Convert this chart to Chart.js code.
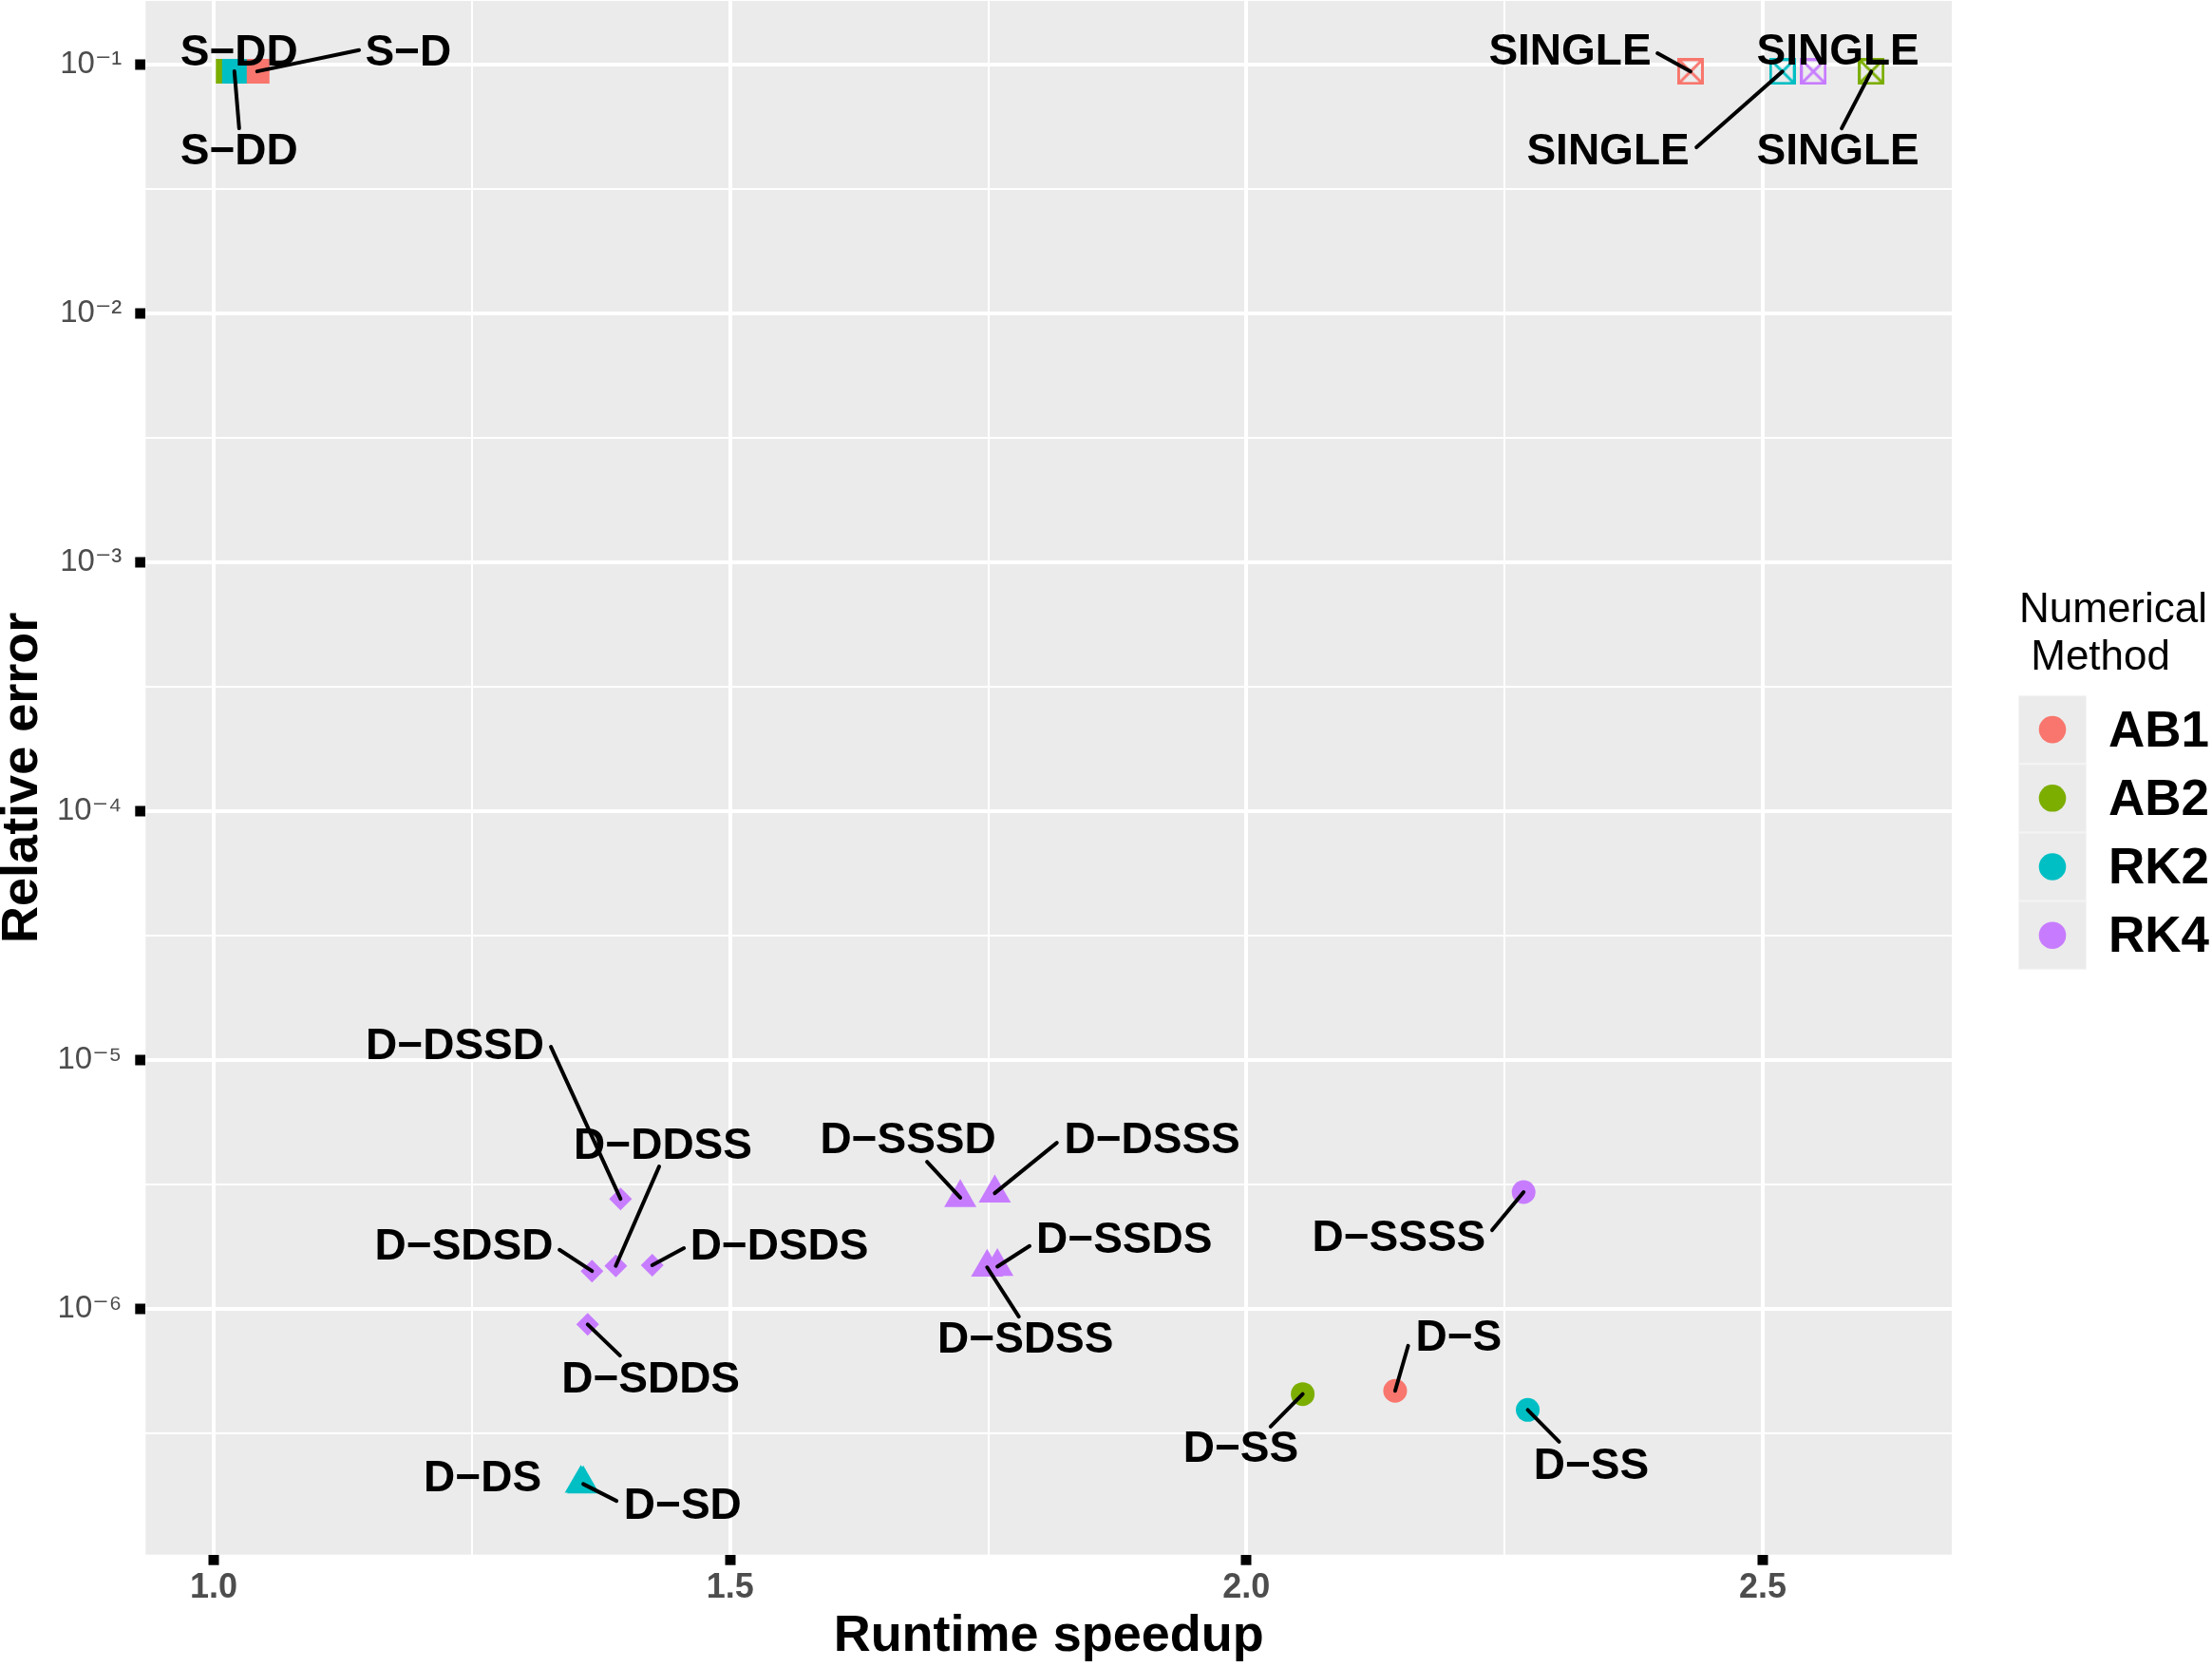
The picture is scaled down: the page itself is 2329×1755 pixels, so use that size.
<!DOCTYPE html>
<html>
<head>
<meta charset="utf-8">
<script src="https://cdn.jsdelivr.net/npm/chart.js@4.4.1/dist/chart.umd.min.js"></script>
<style>
  html, body { margin: 0; padding: 0; background: #ffffff; }
  #wrap { width: 2329px; height: 1755px; position: relative; }
</style>
</head>
<body>
<div id="wrap"><canvas id="myChart"></canvas></div>
<script>
// numerical methods (colour groups)
var methods = ["AB1", "AB2", "RK2", "RK4"];
var methodColors = ["#F8766D", "#7CAE00", "#00BFC4", "#C77CFF"];

// precision configurations per method: name, runtime speedup, relative error, precision class
var ab1Names   = ["S−D", "SINGLE", "D−S"];
var ab1Speedup = [1.042, 2.430, 2.144];
var ab1Error   = [0.0940, 0.0938, 4.69e-7];
var ab1Class   = ["sd", "single", "all"];

var ab2Names   = ["S−DD", "SINGLE", "D−SS"];
var ab2Speedup = [1.014, 2.605, 2.0545];
var ab2Error   = [0.0940, 0.0938, 4.55e-7];
var ab2Class   = ["sd", "single", "all"];

var rk2Names   = ["S−DD", "SINGLE", "D−DS", "D−SD", "D−SS"];
var rk2Speedup = [1.020, 2.519, 1.3555, 1.3578, 2.2724];
var rk2Error   = [0.0940, 0.0938, 1.99e-7, 1.98e-7, 3.93e-7];
var rk2Class   = ["sd", "single", "most", "most", "all"];

var rk4Names   = ["SINGLE", "D−DSSD", "D−SDSD", "D−DDSS", "D−DSDS", "D−SDDS",
                  "D−SSSD", "D−DSSS", "D−SDSS", "D−SSDS", "D−SSSS"];
var rk4Speedup = [2.549, 1.3939, 1.3663, 1.3893, 1.4246, 1.3621,
                  1.7229, 1.7563, 1.7489, 1.7588, 2.2684];
var rk4Error   = [0.0938, 2.77e-6, 1.42e-6, 1.49e-6, 1.50e-6, 8.67e-7,
                  2.80e-6, 2.92e-6, 1.47e-6, 1.48e-6, 2.95e-6];
var rk4Class   = ["single", "half", "half", "half", "half", "half",
                  "most", "most", "most", "most", "all"];

// axis ticks
var xTicks = [1.0, 1.25, 1.5, 1.75, 2.0, 2.25, 2.5];
var yTickExp = [-6.5, -6, -5.5, -5, -4.5, -4, -3.5, -3, -2.5, -2, -1.5, -1];

// repelled label placement (data units): method, point, label centre, segment end
var labelPlacement = [
  {m: 0, i: 0, x: 1.1883, y: 0.1131,   ex: 1.1407, ey: 0.1144},
  {m: 0, i: 1, x: 2.3133, y: 0.1141,   ex: 2.398,  ey: 0.1111},
  {m: 0, i: 2, x: 2.2056, y: 7.715e-7, ex: 2.1566, ey: 7.116e-7},
  {m: 1, i: 0, x: 1.0246, y: 0.1131,   ex: null,   ey: null},
  {m: 1, i: 1, x: 2.5727, y: 0.04533,  ex: 2.5764, ey: 0.05548},
  {m: 1, i: 2, x: 1.9946, y: 2.771e-7, ex: 2.0234, ey: 3.372e-7},
  {m: 2, i: 0, x: 1.0246, y: 0.04533,  ex: 1.0246, ey: 0.05548},
  {m: 2, i: 1, x: 2.3501, y: 0.04533,  ex: 2.4358, ey: 0.04656},
  {m: 2, i: 2, x: 1.2603, y: 2.098e-7, ex: null,   ey: null},
  {m: 2, i: 3, x: 1.4541, y: 1.632e-7, ex: 1.39,   ey: 1.694e-7},
  {m: 2, i: 4, x: 2.3339, y: 2.355e-7, ex: 2.3028, ey: 2.929e-7},
  {m: 3, i: 0, x: 2.5727, y: 0.1141,   ex: null,   ey: null},
  {m: 3, i: 1, x: 1.2336, y: 1.147e-5, ex: 1.3265, ey: 1.131e-5},
  {m: 3, i: 2, x: 1.2423, y: 1.806e-6, ex: 1.3348, ey: 1.729e-6},
  {m: 3, i: 3, x: 1.435,  y: 4.546e-6, ex: 1.4313, ey: 3.736e-6},
  {m: 3, i: 4, x: 1.5477, y: 1.792e-6, ex: 1.4553, ey: 1.755e-6},
  {m: 3, i: 5, x: 1.4231, y: 5.265e-7, ex: 1.3934, ey: 6.502e-7},
  {m: 3, i: 6, x: 1.6723, y: 4.82e-6,  ex: 1.6907, ey: 3.904e-6},
  {m: 3, i: 7, x: 1.9087, y: 4.82e-6,  ex: 1.8164, ey: 4.654e-6},
  {m: 3, i: 8, x: 1.7861, y: 7.614e-7, ex: 1.7796, ey: 9.322e-7},
  {m: 3, i: 9, x: 1.8817, y: 1.907e-6, ex: 1.79,   ey: 1.791e-6},
  {m: 3, i: 10, x: 2.1476, y: 1.949e-6, ex: 2.2379, ey: 2.074e-6}
];

var FONT = '"Liberation Sans", Arial, "DejaVu Sans", sans-serif';

// square with a cross (single precision marker)
function crossSquare(color) {
  var c = document.createElement("canvas");
  c.width = 28; c.height = 28;
  var g = c.getContext("2d");
  g.strokeStyle = color;
  g.lineWidth = 3;
  g.strokeRect(1.5, 1.5, 25, 25);
  g.beginPath();
  g.moveTo(2, 2); g.lineTo(26, 26);
  g.moveTo(26, 2); g.lineTo(2, 26);
  g.stroke();
  return c;
}

function styleFor(cls, color) {
  if (cls === "sd") return "rect";
  if (cls === "single") return crossSquare(color);
  if (cls === "most") return "triangle";
  if (cls === "half") return "rectRot";
  return "circle";
}
function radiusFor(cls) {
  if (cls === "sd") return 18.4;
  if (cls === "single") return 14;
  if (cls === "most") return 19.6;
  if (cls === "half") return 12;
  return 12.5;
}

function makeSet(k, names, speed, err, cls) {
  var pts = [];
  for (var i = 0; i < names.length; i++) pts.push({x: speed[i], y: err[i]});
  var col = methodColors[k];
  return {
    label: methods[k],
    data: pts,
    order: 3 - k,
    pointStyle: cls.map(function(c) { return styleFor(c, col); }),
    pointRadius: cls.map(radiusFor),
    backgroundColor: col,
    borderColor: col,
    borderWidth: 0,
    showLine: false
  };
}

var allNames = [ab1Names, ab2Names, rk2Names, rk4Names];

var datasets = [
  makeSet(0, ab1Names, ab1Speedup, ab1Error, ab1Class),
  makeSet(1, ab2Names, ab2Speedup, ab2Error, ab2Class),
  makeSet(2, rk2Names, rk2Speedup, rk2Error, rk2Class),
  makeSet(3, rk4Names, rk4Speedup, rk4Error, rk4Class)
];

function isMajorX(v) { return Math.abs(v * 2 - Math.round(v * 2)) < 1e-6; }
function isMajorY(v) { var e = Math.log10(v); return Math.abs(e - Math.round(e)) < 1e-6; }

var SUP = {"-": "⁻", "0": "⁰", "1": "¹", "2": "²", "3": "³", "4": "⁴",
           "5": "⁵", "6": "⁶", "7": "⁷", "8": "⁸", "9": "⁹"};
function supText(n) {
  return String(n).split("").map(function(ch) { return SUP[ch]; }).join("");
}

// panel background (ggplot grey)
var panelBg = {
  id: "panelBg",
  beforeDraw: function(chart) {
    var a = chart.chartArea, ctx = chart.ctx;
    ctx.save();
    ctx.fillStyle = "#EBEBEB";
    ctx.fillRect(a.left, a.top, a.right - a.left, a.bottom - a.top);
    ctx.restore();
  }
};

// repelled text labels with leader segments
var pointLabels = {
  id: "pointLabels",
  afterDatasetsDraw: function(chart) {
    var ctx = chart.ctx, xs = chart.scales.x, ys = chart.scales.y;
    ctx.save();
    ctx.strokeStyle = "#000";
    ctx.lineWidth = 4;
    ctx.lineCap = "round";
    labelPlacement.forEach(function(p) {
      if (p.ex === null) return;
      var pt = chart.data.datasets[p.m].data[p.i];
      ctx.beginPath();
      ctx.moveTo(xs.getPixelForValue(pt.x), ys.getPixelForValue(pt.y));
      ctx.lineTo(xs.getPixelForValue(p.ex), ys.getPixelForValue(p.ey));
      ctx.stroke();
    });
    ctx.fillStyle = "#000";
    ctx.font = "bold 46px " + FONT;
    ctx.textAlign = "center";
    ctx.textBaseline = "middle";
    labelPlacement.forEach(function(p) {
      ctx.fillText(allNames[p.m][p.i], xs.getPixelForValue(p.x), ys.getPixelForValue(p.y) + 2);
    });
    ctx.restore();
  }
};

// colour legend on the right
var sideLegend = {
  id: "sideLegend",
  afterDraw: function(chart) {
    var ctx = chart.ctx;
    ctx.save();
    ctx.fillStyle = "#000";
    ctx.textAlign = "left";
    ctx.textBaseline = "alphabetic";
    ctx.font = "44px " + FONT;
    ctx.fillText("Numerical", 2126, 655);
    ctx.fillText(" Method", 2126, 705);
    var top = 732, h = 72.2;
    for (var k = 0; k < methods.length; k++) {
      var y0 = top + k * h;
      ctx.fillStyle = "#EBEBEB";
      ctx.fillRect(2125, y0, 72, h);
      ctx.strokeStyle = "#F5F5F5";
      ctx.lineWidth = 1;
      ctx.strokeRect(2125.5, y0 + 0.5, 71, h - 1);
      ctx.fillStyle = methodColors[k];
      ctx.beginPath();
      ctx.arc(2161, y0 + h / 2, 14.3, 0, Math.PI * 2);
      ctx.fill();
      ctx.fillStyle = "#000";
      ctx.font = "bold 53px " + FONT;
      ctx.textBaseline = "middle";
      ctx.fillText(methods[k], 2220, y0 + h / 2 + 3);
      ctx.textBaseline = "alphabetic";
    }
    ctx.restore();
  }
};

var ctx = document.getElementById("myChart");
var myChart = new Chart(ctx, {
  type: "scatter",
  data: { datasets: datasets },
  plugins: [panelBg, pointLabels, sideLegend],
  options: {
    responsive: true,
    maintainAspectRatio: false,
    animation: false,
    events: [],
    devicePixelRatio: 1,
    layout: { autoPadding: false, padding: { left: 0, top: 1, right: 274, bottom: 0 } },
    plugins: { legend: { display: false }, tooltip: { enabled: false } },
    scales: {
      x: {
        type: "linear",
        min: 0.934,
        max: 2.683,
        bounds: "data",
        afterFit: function(s) { s.height = 118.3; s.paddingLeft = 0; s.paddingRight = 0; },
        afterBuildTicks: function(s) {
          s.ticks = xTicks.map(function(v) { return {value: v}; });
        },
        border: { display: false },
        grid: {
          color: "#FFFFFF",
          lineWidth: function(c) { return c.tick && isMajorX(c.tick.value) ? 4 : 2; },
          drawTicks: true,
          tickLength: 11,
          tickWidth: 11,
          tickColor: function(c) { return c.tick && isMajorX(c.tick.value) ? "#000" : "rgba(0,0,0,0)"; }
        },
        ticks: {
          autoSkip: false,
          maxRotation: 0,
          padding: 3,
          color: "#4D4D4D",
          font: { family: FONT, size: 36, weight: "bold" },
          callback: function(v) { return isMajorX(v) ? v.toFixed(1) : ""; }
        },
        title: {
          display: true,
          text: "Runtime speedup",
          color: "#000",
          font: { family: FONT, size: 54, weight: "bold", lineHeight: 0.9 },
          padding: { top: 0, bottom: 8 }
        }
      },
      y: {
        type: "logarithmic",
        min: Math.pow(10, -6.987),
        max: Math.pow(10, -0.744),
        bounds: "data",
        afterFit: function(s) { s.width = 153.3; s.paddingTop = 0; s.paddingBottom = 0; },
        afterBuildTicks: function(s) {
          s.ticks = yTickExp.map(function(e) { return {value: Math.pow(10, e)}; });
        },
        border: { display: false },
        grid: {
          color: "#FFFFFF",
          lineWidth: function(c) { return c.tick && isMajorY(c.tick.value) ? 4 : 2; },
          drawTicks: true,
          tickLength: 11,
          tickWidth: 11,
          tickColor: function(c) { return c.tick && isMajorY(c.tick.value) ? "#000" : "rgba(0,0,0,0)"; }
        },
        ticks: {
          autoSkip: false,
          padding: 14,
          color: "#4D4D4D",
          font: { family: FONT, size: 33 },
          callback: function(v) {
            if (!isMajorY(v)) return "";
            return "10" + supText(Math.round(Math.log10(v)));
          }
        },
        title: {
          display: true,
          text: "Relative error",
          color: "#000",
          font: { family: FONT, size: 54, weight: "bold", lineHeight: 0.9 },
          padding: { top: 0, bottom: 0 }
        }
      }
    }
  }
});
</script>
</body>
</html>
